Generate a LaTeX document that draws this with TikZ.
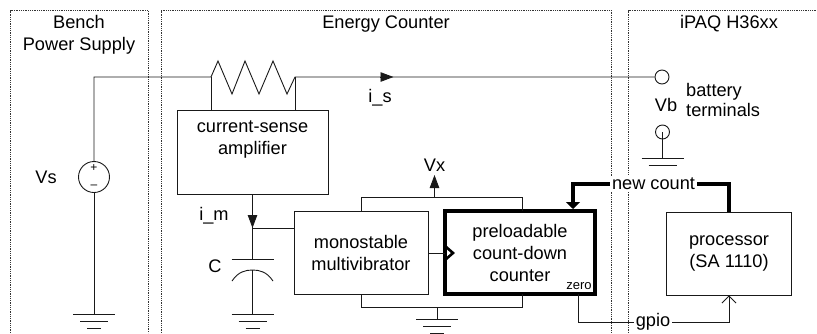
\documentclass[tikz,border=0pt]{standalone}
\usepackage{fontspec}
\setmainfont{Liberation Sans}
\usetikzlibrary{positioning,arrows,arrows.meta,decorations.markings}
\newcommand{\gnd}[1]{
    \draw[wire] (#1) ++(-21,0) -- ++(42,0);
    \draw[wire] (#1) ++(-14,7) -- ++(28,0);
    \draw[wire] (#1) ++(-7,14) -- ++(14,0);
}
\begin{document}
\begin{tikzpicture}[
    x=1pt, y=-1pt,
    font=\fontsize{18.2}{22}\selectfont,
    wire/.style={draw=black!90, line width=0.9pt},
    fatwire/.style={draw=black, line width=3.8pt},
    solidtip/.style={-{Triangle[length=13pt,width=9.5pt]}},
    panel/.style={draw=black!80, line width=0.8pt, densely dotted},
    boxnode/.style={rectangle, draw=black!90, line width=0.9pt, fill=white, align=center, inner sep=0pt},
    termnode/.style={circle, draw=black!90, line width=0.9pt, fill=white, minimum size=14pt, inner sep=0pt},
    gaplabel/.style={fill=white, inner sep=2pt}
    ]
        \useasboundingbox (0,0) rectangle (817,333);

        %Panels
        \draw[panel] (10.5,333) -- (10.5,10.5) -- (148.5,10.5) -- (148.5,333);
        \draw[panel] (161,333) -- (161,10.5) -- (611.5,10.5) -- (611.5,333);
        \draw[panel] (628.5,333) -- (628.5,10.5) -- (817,10.5);
        \node[align=center] (bench) at (79,35) {Bench\\Power Supply};
        \node (energy) at (386,24) {Energy Counter};
        \node (ipaq) at (729,24) {iPAQ H36xx};

        %Nodes
        \node[boxnode, minimum width=151pt, minimum height=84pt]
            (amp) at (252.5,152) {current-sense\\amplifier\\[6pt]};
        \node[boxnode, minimum width=134pt, minimum height=83pt]
            (mono) at (361,252.5) {monostable\\multivibrator};
        \node[boxnode, minimum width=125pt, minimum height=83pt]
            (proc) at (729,253.5) {processor\\(SA 1110)};
        \node[boxnode, minimum width=150pt, minimum height=83pt, fatwire]
            (count) at (520,252.5) {preloadable\\count-down\\counter};
        \node[circle, draw=black!90, line width=0.9pt, fill=white, minimum size=31pt, inner sep=0pt]
            (vsrc) at (94,177) {};
        \node[font=\fontsize{12}{12}\selectfont, inner sep=0pt] (plus) at (94,168.5) {+};
        \node[font=\fontsize{12}{12}\selectfont, inner sep=0pt] (minus) at (94,187) {--};
        \node[termnode] (btop) at (662,77) {};
        \node[termnode] (bbot) at (662.5,132) {};
        \node (vs) at (46,177) {Vs};
        \node (vb) at (666,105) {Vb};
        \node[align=left, anchor=west, inner sep=0pt] (batt) at (686,100)
            {battery\\[-2pt]terminals};
        \node (im) at (214,216) {i\_m};
        \node (cap) at (215,266) {C};
        \node (is) at (380,98) {i\_s};
        \node (vx) at (434.5,165) {Vx};
        \node[font=\fontsize{13}{14}\selectfont, inner sep=0pt] (zero) [left=5pt of count.south east, yshift=10pt] {zero};

        \coordinate (rin) at (211,77);
        \coordinate (rout) at (295,77);
        \coordinate (isbase) at (380,77);
        \coordinate (istip) at (393.5,77);
        \coordinate (imbase) at (252.5,213);
        \coordinate (junc) at (252.5,228);
        \coordinate (platetop) at (252.5,259);
        \coordinate (platebot) at (252.5,270);
        \coordinate (gndvs) at (94,314);
        \coordinate (gndcap) at (252.5,314);
        \coordinate (gndb) at (662.5,158);
        \coordinate (gndctr) at (437,319);
        \coordinate (topbus) at (434.5,197.5);
        \coordinate (vxtip) at (434.5,175);
        \coordinate (botbus) at (437,307.5);

        %Lines
        \draw[wire] (vsrc.north) -- (94,77) -- (rin)
            -- (218,61) -- (232,94) -- (245,61) -- (259,94) -- (273,61) -- (287,94) -- (295,77)
            -- (btop.west);
        \draw[wire, solidtip] (isbase) -- (istip);
        \draw[wire] (rin) -- (rin |- amp.north);
        \draw[wire] (rout) -- (rout |- amp.north);
        \draw[wire] (vsrc.south) -- (gndvs);
        \gnd{gndvs}

        \draw[wire] (amp.south) -- (platetop);
        \draw[wire, solidtip] (imbase) -- (junc);
        \draw[wire] (junc) -- (junc -| mono.west);
        \draw[wire] (231.5,259) -- (273.5,259);
        \draw[wire] (232,281) .. controls (238,272) and (245,270) .. (platebot)
            .. controls (260,270) and (267,272) .. (273,281);
        \draw[wire] (platebot) -- (gndcap);
        \gnd{gndcap}

        \draw[wire] (mono.north) -- (mono.north |- topbus) -- (522,197.5) -- (522,211);
        \draw[wire, solidtip] (topbus) -- (vxtip);
        \draw[wire] (mono.south) -- (mono.south |- botbus) -- (522,307.5) -- (522,294);
        \draw[wire] (botbus) -- (gndctr);
        \gnd{gndctr}
        \draw[wire] (mono.east |- 0,253) -- (445,253);
        \draw[line width=2.6pt, line join=miter] (445,246) -- (453,253) -- (445,260);

        \draw[wire] (bbot.center) -- (gndb);
        \draw[wire] (gndb) ++(-21,0) -- ++(42,0);
        \draw[wire] (gndb) ++(-14,7) -- ++(28,0);

        \node[gaplabel] (newcount) at (653.5,184) {new count};
        \draw[fatwire, -{Triangle[length=7pt,width=14pt]}] (newcount.west) -- (573,184) -- (573,209);
        \draw[fatwire] (newcount.east) -- (729,184) -- (729,212);

        \node[gaplabel] (gpio) at (653,322) {gpio};
        \draw[wire] (578,294) -- (578,322) -- (gpio.west);
        \draw[wire, -{Straight Barb[length=7pt,width=14pt]}] (gpio.east) -- (729,322) -- (proc.south);
    \end{tikzpicture}
\end{document}
